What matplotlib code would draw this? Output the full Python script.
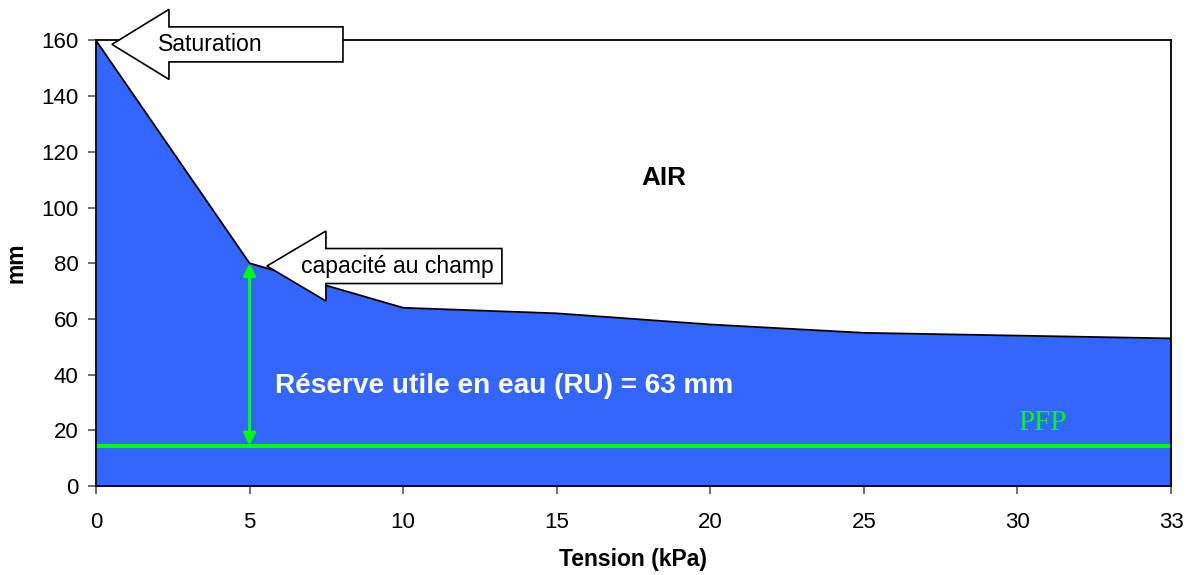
import matplotlib
matplotlib.use("Agg")
import matplotlib.pyplot as plt
import matplotlib.transforms as mtransforms
from matplotlib.patches import Polygon

plt.rcParams["font.family"] = ["Liberation Sans", "DejaVu Sans"]

# soil water content (mm) against tension (kPa)
tension_labels = ["0", "5", "10", "15", "20", "25", "30", "33"]
water_mm = [160, 80, 64, 62, 58, 55, 54, 53]
pfp_mm = 14.5          # permanent wilting point
field_capacity_mm = 80
ru_mm = 63

blue = "#3366FF"
green = "#00FF00"

fig = plt.figure(figsize=(11.91, 5.75), dpi=100)
ax = fig.add_axes([0.0806, 0.1548, 0.9026, 0.7748])

x = list(range(len(tension_labels)))
ax.fill_between(x, water_mm, 0, color=blue, lw=0)
ax.plot(x, water_mm, color="black", lw=1.3)

ax.set_xlim(0, len(x) - 1)
ax.set_ylim(0, 160)
ax.set_xticks(x)
ax.set_xticklabels(tension_labels)
ax.set_yticks(range(0, 161, 20))
ax.tick_params(axis="both", direction="out", length=5.5, width=1.2,
               color="#555555", labelsize=16)
ax.tick_params(axis="x", pad=13)
ax.tick_params(axis="y", pad=7)
for s in ax.spines.values():
    s.set_linewidth(1.3)
    s.set_color("black")

ax.set_xlabel("Tension (kPa)", fontsize=16.5, fontweight="bold", labelpad=11)
ax.set_ylabel("mm", fontsize=16.5, fontweight="bold", labelpad=10)

# wilting point line and available water arrow
ax.plot([0, len(x) - 1.02], [pfp_mm, pfp_mm], color=green, lw=3)
ax.annotate("", xy=(1, pfp_mm), xytext=(1, field_capacity_mm),
            arrowprops=dict(arrowstyle="<|-|>", color=green, lw=2.2,
                            mutation_scale=18, shrinkA=0, shrinkB=0))
ax.text(6.165, 22.5, "PFP", color=green, fontsize=21,
        family="Liberation Serif", ha="center", va="center")
ax.text(1.165, 36, f"Réserve utile en eau (RU) = {ru_mm} mm", color="white",
        fontsize=20.2, fontweight="bold", ha="left", va="center")
ax.text(3.70, 110.5, "AIR", fontsize=18.8, fontweight="bold",
        ha="center", va="center")


def block_arrow(tip_x, tip_y, label, text_dx, length=231, head_len=57,
                head_half=35, shaft_half=17.5):
    # left-pointing block arrow, shape in pixels, anchored at a data point
    trans = fig.dpi_scale_trans + mtransforms.ScaledTranslation(
        tip_x, tip_y, ax.transData)
    pts = [(0, 0), (head_len, head_half), (head_len, shaft_half),
           (length, shaft_half), (length, -shaft_half),
           (head_len, -shaft_half), (head_len, -head_half)]
    pts = [(px / 100, py / 100) for px, py in pts]
    ax.add_patch(Polygon(pts, closed=True, facecolor="white",
                         edgecolor="black", lw=1.2, transform=trans,
                         clip_on=False, zorder=5))
    ax.text(text_dx / 100, 0, label, transform=trans, fontsize=16.6,
            ha="left", va="center", zorder=6)


block_arrow(0.104, 158.6, "Saturation", 46)
block_arrow(1.113, 79.0, "capacité au champ", 34, length=235, head_len=59)

fig.savefig("out.png", dpi=100)
